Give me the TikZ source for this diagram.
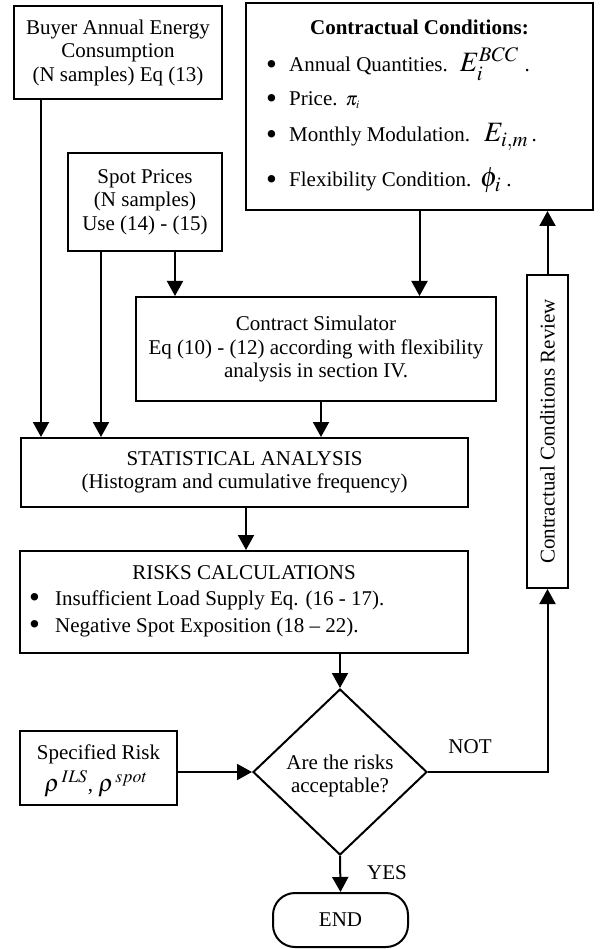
\documentclass[tikz,border=0pt]{standalone}
\usepackage{mathptmx}
\usepackage[no-math]{fontspec}
\setmainfont{Liberation Serif}
\usetikzlibrary{arrows.meta,shapes.geometric,calc}
\newcommand{\bigmath}[1]{{\fontsize{28}{28}\selectfont$#1$}}
\newcommand{\mybul}[1]{\makebox[#1][l]{\raisebox{-2.5pt}{\fontsize{31}{31}\selectfont\textbullet}}}
\begin{document}
\begin{tikzpicture}[x=1pt,y=-1pt,
  box/.style={draw,line width=2pt,inner sep=0pt,align=center},
  arr/.style={line width=2pt,-{Triangle[length=15pt,width=16pt]}},
  txt/.style={inner sep=0pt,align=center},
  every node/.style={font=\fontsize{21}{23.5}\selectfont}]
\useasboundingbox (0,0) rectangle (602,949);

% boxes
\node[box,minimum width=208pt,minimum height=93pt] (buyer) at (118,52.5)
  {Buyer Annual Energy\\Consumption\\(N samples) Eq (13)};
\node[box,minimum width=347pt,minimum height=207pt] (cc) at (419.5,106.5) {};
\node[txt,anchor=base] (cctitle) at (419.5,35) {\textbf{Contractual Conditions:}};
\node[txt,anchor=base west] (cc1) at (266,72)
  {\mybul{23pt}Annual Quantities.\hspace{12pt}\bigmath{E_i^{BCC}}\hspace{6pt}.};
\node[txt,anchor=base west] (cc2) at (266,106)
  {\mybul{23pt}Price.\hspace{8pt}{\fontsize{19}{19}\selectfont$\pi_{\scriptscriptstyle i}$}};
\node[txt,anchor=base west] (cc3) at (266,142)
  {\mybul{23pt}Monthly Modulation.\hspace{14pt}\bigmath{E_{i,m}}\,.};
\node[txt,anchor=base west] (cc4) at (266,187)
  {\mybul{23pt}Flexibility Condition.\hspace{9pt}\bigmath{\phi_i}\ .};

\node[box,minimum width=154pt,minimum height=98pt] (spot) at (145,202)
  {Spot Prices\\(N samples)\\Use (14) - (15)};
\node[box,minimum width=360pt,minimum height=104pt] (sim) at (316,349)
  {Contract Simulator\\Eq (10) - (12) according with flexibility\\analysis in section IV.};
\node[box,minimum width=447pt,minimum height=69pt] (stat) at (244.5,472.5)
  {STATISTICAL ANALYSIS\\(Histogram and cumulative frequency)};
\node[box,minimum width=448pt,minimum height=102pt] (risks) at (244,602) {};
\node[txt,anchor=base] (rtitle) at (244,579) {RISKS CALCULATIONS};
\node[txt,anchor=base west] (r1) at (29,605)
  {\mybul{26pt}Insufficient Load Supply Eq. (16 - 17).};
\node[txt,anchor=base west] (r2) at (29,632)
  {\mybul{26pt}Negative Spot Exposition (18 -- 22).};

\node[box,minimum width=157pt,minimum height=74pt] (spec) at (98.5,768) {};
\node[txt,anchor=base] (spec1) at (98.5,759) {Specified Risk};
\node[txt,anchor=base] (spec2) at (96,791)
  {{\fontsize{24}{24}\selectfont$\rho^{\,ILS}$}, {\fontsize{24}{24}\selectfont$\rho^{\,spot}$}};

\node[draw,line width=2pt,diamond,minimum width=174pt,minimum height=166pt,inner sep=0pt] (dec) at (340,772) {};
\node[txt] (dectxt) at (340,776) {Are the risks\\acceptable?};

\node[box,minimum width=41pt,minimum height=313pt] (rev) at (547.5,431.5) {};
\node[txt,rotate=90] (revtxt) at (rev) {Contractual Conditions Review};

\node[box,minimum width=135pt,minimum height=54pt,rounded corners=22pt] (end) at (340.5,920) {END};

\node[txt] (not) at (470,747) {NOT};
\node[txt] (yes) at (387,873) {YES};

% connectors
\draw[arr] ([xshift=28pt]buyer.south west) -- ([xshift=28pt]buyer.south west |- stat.north);
\draw[arr] ([xshift=34pt]spot.south west) -- ([xshift=34pt]spot.south west |- stat.north);
\draw[arr] ([xshift=108pt]spot.south west) -- ([xshift=108pt]spot.south west |- sim.north);
\draw[arr] (cc.south) -- (cc.south |- sim.north);
\draw[arr] ([xshift=5pt]sim.south) -- ([xshift=5pt]sim.south |- stat.north);
\draw[arr] ([xshift=1.5pt]stat.south) -- ([xshift=1.5pt]stat.south |- risks.north);
\draw[arr] (dec.north |- risks.south) -- (dec.north);
\draw[arr] (spec.east |- dec.west) -- (dec.west);
\draw[arr] (dec.south) -- (end.north);
\draw[arr] (dec.east) -- (rev.south |- dec.east) -- (rev.south);
\draw[arr] (rev.north) -- (rev.north |- cc.south);
\end{tikzpicture}
\end{document}
